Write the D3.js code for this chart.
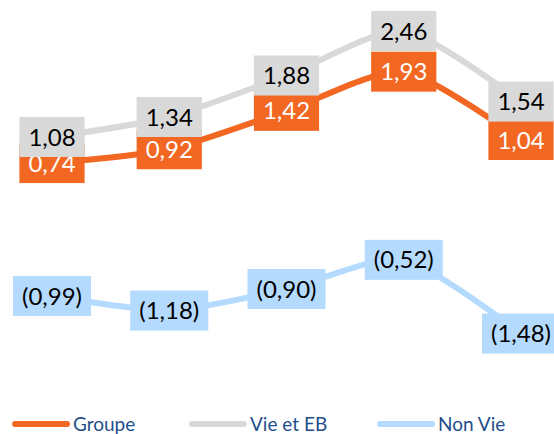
<!DOCTYPE html>
<html>
<head>
<meta charset="utf-8">
<script src="https://cdn.jsdelivr.net/npm/d3@7"></script>
<style>
  body { margin: 0; background: #fff; }
  svg { display: block; }
  text { font-family: Lato, "Open Sans", sans-serif; }
</style>
</head>
<body>
<svg id="chart" width="554" height="434"></svg>
<script>
// periods (no axis shown in the original)
const categories = ['P1', 'P2', 'P3', 'P4', 'P5']

const groupe = [0.74, 0.92, 1.42, 1.93, 1.04]
const vieEtEB = [1.08, 1.34, 1.88, 2.46, 1.54]
const nonVie = [-0.99, -1.18, -0.90, -0.52, -1.48]

const seriesNames = ['Groupe', 'Vie et EB', 'Non Vie']

const series = [
  { name: 'Groupe', values: groupe, color: '#F26722', textColor: '#ffffff' },
  { name: 'Vie et EB', values: vieEtEB, color: '#D9D9D9', textColor: '#000000' },
  { name: 'Non Vie', values: nonVie, color: '#B4DAFE', textColor: '#000000' }
]

const svg = d3.select('#chart')

const x = d3.scalePoint().domain(categories).range([52, 521])
const y = d3.scaleLinear().domain([-1.5, 2.5]).range([335.1, 27.9])

const fmt = v => {
  const s = d3.format('.2f')(Math.abs(v)).replace('.', ',')
  return v < 0 ? '(' + s + ')' : s
}

const line = d3.line()
  .x((d, i) => x(categories[i]))
  .y(d => y(d))
  .curve(d3.curveCardinal.tension(0.3))

// lines first
svg.append('g').selectAll('path')
  .data(series)
  .join('path')
  .attr('d', s => line(s.values))
  .attr('fill', 'none')
  .attr('stroke', s => s.color)
  .attr('stroke-width', 6)

// labels: orange first so grey boxes sit on top of them
const boxH = 40
series.forEach(s => {
  const g = svg.append('g')
  s.values.forEach((v, i) => {
    const cx = x(categories[i])
    const cy = y(v)
    const lg = g.append('g')
    const rect = lg.append('rect')
      .attr('fill', s.color)
    const t = lg.append('text')
      .attr('x', cx)
      .attr('y', cy)
      .attr('dy', '0.36em')
      .attr('text-anchor', 'middle')
      .attr('font-size', 24)
      .attr('fill', s.textColor)
      .text(fmt(v))
    const w = t.node().getComputedTextLength() + 18
    rect.attr('x', cx - w / 2)
      .attr('y', cy - boxH / 2)
      .attr('width', w)
      .attr('height', boxH)
  })
})

// legend
const legendX = [12, 189, 377]
const legend = svg.append('g')
series.forEach((s, i) => {
  const lx = legendX[i]
  legend.append('line')
    .attr('x1', lx + 3).attr('x2', lx + 55)
    .attr('y1', 424).attr('y2', 424)
    .attr('stroke', s.color)
    .attr('stroke-width', 6)
    .attr('stroke-linecap', 'round')
  legend.append('text')
    .attr('x', lx + 61)
    .attr('y', 424)
    .attr('dy', '0.35em')
    .attr('font-size', 19)
    .attr('fill', '#1F4E8C')
    .text(seriesNames[i])
})
</script>
</body>
</html>
